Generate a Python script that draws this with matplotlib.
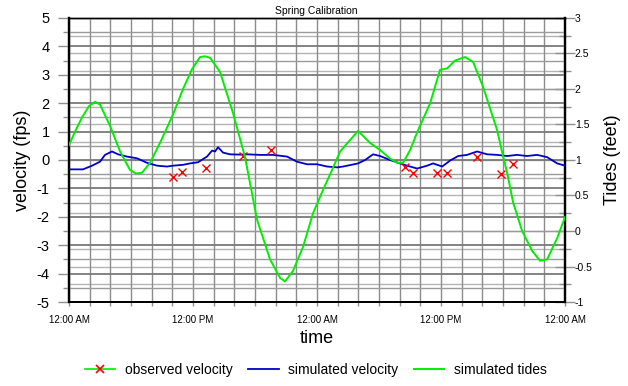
import numpy as np
import matplotlib
matplotlib.use("Agg")
import matplotlib.pyplot as plt
from matplotlib.lines import Line2D
from matplotlib.ticker import MultipleLocator, FixedLocator, FormatStrFormatter
from matplotlib.transforms import blended_transform_factory

plt.rcParams['font.family'] = ['Liberation Sans', 'DejaVu Sans']
plt.rcParams['axes.unicode_minus'] = False

# simulated tides (feet, right axis)
tide_hours = [0, 0.58, 1.26, 1.94, 2.52, 3.0, 3.97, 4.94, 5.9, 6.48, 7.06, 7.84, 8.8,
              10.06, 11.03, 11.9, 12.68, 13.16, 13.65, 14.61, 15.87, 17.03, 18.19,
              19.45, 20.42, 20.9, 21.68, 22.65, 23.61, 24.58, 25.45, 26.23, 27.19,
              27.97, 29.13, 30.1, 31.06, 31.74, 32.32, 33.0, 33.77, 34.94, 35.9,
              36.58, 37.35, 38.32, 39.1, 40.06, 41.42, 42.0, 42.39, 42.97, 43.84,
              44.81, 45.58, 46.26, 47.23, 48.0]
tide_feet = [1.21, 1.40, 1.60, 1.76, 1.82, 1.78, 1.48, 1.12, 0.86, 0.81, 0.82, 0.96, 1.24,
             1.64, 2.0, 2.28, 2.45, 2.46, 2.44, 2.24, 1.66, 1.04, 0.16,
             -0.40, -0.66, -0.71, -0.56, -0.22, 0.25, 0.58, 0.86, 1.12, 1.28,
             1.41, 1.24, 1.14, 1.02, 0.96, 0.96, 1.14, 1.42, 1.80, 2.27,
             2.29, 2.40, 2.45, 2.38, 2.03, 1.42, 1.05, 0.82, 0.40, 0.0,
             -0.28, -0.42, -0.40, -0.10, 0.20]

# simulated velocity (fps, left axis)
sim_hours = [0.1, 1.35, 2.23, 3.0, 3.48, 4.16, 4.74, 5.61, 6.58, 7.55, 8.52, 9.48,
             10.06, 11.03, 11.71, 12.48, 13.35, 13.84, 14.13, 14.42, 14.9, 15.58,
             16.55, 17.23, 18.48, 19.74, 21.1, 22.06, 23.03, 24.0, 24.97, 25.94,
             26.52, 27.19, 27.97, 28.65, 29.42, 30.1, 31.06, 32.03, 32.71, 33.68,
             34.65, 35.23, 36.1, 36.87, 37.65, 38.52, 39.48, 40.45, 41.42, 42.39,
             43.35, 44.32, 45.29, 46.26, 47.23, 48.0]
sim_vel = [-0.33, -0.33, -0.2, -0.06, 0.18, 0.3, 0.2, 0.12, 0.06, -0.1, -0.2, -0.23,
           -0.2, -0.17, -0.12, -0.08, 0.12, 0.33, 0.3, 0.45, 0.26, 0.2,
           0.19, 0.2, 0.18, 0.18, 0.12, -0.06, -0.15, -0.15, -0.23, -0.26,
           -0.23, -0.18, -0.12, 0.0, 0.2, 0.14, 0.0, -0.12, -0.2, -0.3,
           -0.2, -0.12, -0.23, -0.02, 0.14, 0.18, 0.3, 0.2, 0.18, 0.14,
           0.18, 0.14, 0.18, 0.1, -0.12, -0.2]

# observed velocity (fps)
obs_hours = [10.03, 10.97, 13.23, 16.81, 19.52, 32.52, 33.32, 35.58, 36.55, 39.52, 41.78, 43.0]
obs_vel = [-0.59, -0.41, -0.29, 0.15, 0.35, -0.23, -0.47, -0.47, -0.47, 0.12, -0.5, -0.14]

time_ticks = [0, 12, 24, 36, 48]
time_labels = ["12:00 AM", "12:00 PM", "12:00 AM", "12:00 PM", "12:00 AM"]

green = "#00ee00"
blue = "#0000cc"

fig = plt.figure(figsize=(6.28, 3.86), dpi=100)
ax2 = fig.add_axes([0.1099, 0.2176, 0.79, 0.7358])
ax = fig.add_axes([0.1099, 0.2176, 0.79, 0.7358], sharex=ax2)
ax.patch.set_visible(False)

# right axis: grid and ticks underneath
ax2.yaxis.tick_right()
ax2.yaxis.set_label_position("right")
ax2.set_ylim(-1, 3)
ax2.yaxis.set_major_locator(MultipleLocator(0.5))
ax2.yaxis.set_minor_locator(MultipleLocator(0.25))
ax2.yaxis.set_major_formatter(FormatStrFormatter("%g"))
ax2.grid(True, which="both", axis="y", color="#b4b4b4", lw=1.0)
ax2.tick_params(axis="y", which="major", direction="inout", length=14, width=1,
                labelsize=7.5, pad=0, color="#909090")
ax2.tick_params(axis="y", which="minor", direction="inout", length=8, width=1, color="#909090")
ax2.set_ylabel("Tides (feet)", fontsize=13, labelpad=8)
ax2.tick_params(axis="x", which="both", bottom=False, labelbottom=False)

# left axis
ax.set_xlim(0, 48)
ax.set_ylim(-5, 5)
ax.yaxis.set_major_locator(MultipleLocator(1))
ax.yaxis.set_minor_locator(MultipleLocator(0.5))
ax.xaxis.set_major_locator(FixedLocator(time_ticks))
ax.xaxis.set_minor_locator(MultipleLocator(2))
ax.set_xticklabels(time_labels)
ax.grid(True, which="major", axis="y", color="#7a7a7a", lw=1.3)
ax.grid(True, which="minor", axis="y", color="#9a9a9a", lw=1.0)
ax.grid(True, which="both", axis="x", color="#8c8c8c", lw=1.0)
ax.tick_params(axis="y", which="major", length=8, width=1, labelsize=10.5, pad=6, color="#909090")
ax.tick_params(axis="y", which="minor", length=4, width=1, color="#909090")
ax.tick_params(axis="x", which="both", length=3, width=1, labelsize=7, pad=6, color="#909090")
ax.set_ylabel("velocity (fps)", fontsize=13, labelpad=4)
ax.set_xlabel("time", fontsize=13, labelpad=4)

for a in (ax, ax2):
    for s in a.spines.values():
        s.set_color("black")
    a.spines["left"].set_linewidth(1.6)
    a.spines["right"].set_linewidth(1.6)
    a.spines["bottom"].set_linewidth(1.4)
    a.spines["top"].set_linewidth(1.0)

ax.plot(sim_hours, sim_vel, color=blue, lw=1.3, zorder=3)
ax.plot(obs_hours, obs_vel, ls="none", marker="x", ms=6, mew=1.0, color="red", zorder=4)
tide_tr = blended_transform_factory(ax.transData, ax2.transData)
ax.plot(tide_hours, tide_feet, color=green, lw=1.4, transform=tide_tr, zorder=5)

fig.text(0.503, 0.972, "Spring Calibration", ha="center", va="center", fontsize=7.5)

handles = [
    Line2D([], [], color=green, lw=1.2, marker="x", mec="red", mew=1.2, ms=6),
    Line2D([], [], color=blue, lw=1.3),
    Line2D([], [], color=green, lw=1.4),
]
fig.legend(handles, ["observed velocity", "simulated velocity", "simulated tides"],
           loc="center", bbox_to_anchor=(0.503, 0.042), ncol=3, frameon=False,
           fontsize=10, handlelength=2.2, columnspacing=1.1, handletextpad=0.7)

fig.savefig("out.png", dpi=100)
